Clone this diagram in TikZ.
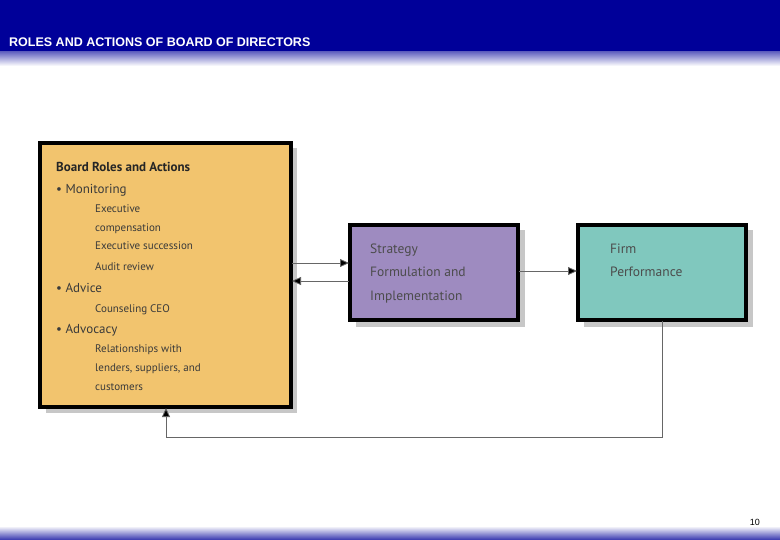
\documentclass[tikz,border=0pt]{standalone}
\usepackage{fontspec}
\setmainfont{PT Sans}
\newfontfamily\hdr{Liberation Sans}
\usetikzlibrary{arrows.meta}
\definecolor{navy}{HTML}{000099}
\definecolor{boardc}{HTML}{F2C46E}
\definecolor{stratc}{HTML}{9E8BC0}
\definecolor{firmc}{HTML}{80C8BE}
\definecolor{txt}{HTML}{3A3A3A}
\begin{document}
\begin{tikzpicture}[x=1pt,y=-1pt,
  boxstyle/.style={draw=black,line width=3.5pt},
  shadowc/.style={fill=black!22},
  conn/.style={draw=black!60,line width=0.8pt,-{Triangle[length=9pt,width=8pt,fill=black]}},
  itm/.style={anchor=base west,inner sep=0pt,text=txt,font=\fontsize{13}{13}\selectfont},
  sub/.style={anchor=base west,inner sep=0pt,text=txt,font=\fontsize{11}{11}\selectfont},
  lab/.style={anchor=base west,inner sep=0pt,text=black!70,font=\fontsize{13.5}{13.5}\selectfont}]
\useasboundingbox (0,0) rectangle (780,540);
\fill[white] (0,0) rectangle (780,540);
\fill[navy] (0,0) rectangle (780,52);
\shade[top color=navy!60, bottom color=white] (0,52) rectangle (780,66);
\shade[top color=white, bottom color=navy!80] (0,526) rectangle (780,540);
\node[anchor=base west,inner sep=0pt,text=white,font=\hdr\bfseries\fontsize{12.5}{12.5}\selectfont] (title) at (9,47) {ROLES AND ACTIONS OF BOARD OF DIRECTORS};
\node[anchor=base east,inner sep=0pt,font=\hdr\fontsize{9}{9}\selectfont] (pg) at (760,525) {10};
% shadows
\fill[shadowc] (46,148) rectangle (297,413);
\fill[shadowc] (356,230) rectangle (525,327);
\fill[shadowc] (584,230) rectangle (753,327);
% boxes
\draw[boxstyle,fill=boardc] (40,143) rectangle (291,407);
\node[inner sep=0pt] (board) at (165.5,275) {};
\coordinate (bE1) at (292,263);
\coordinate (bE2) at (292,281);
\coordinate (bS) at (166,408);
\draw[boxstyle,fill=stratc] (350,225) rectangle (518,320);
\coordinate (sW1) at (349,263);
\coordinate (sW2) at (349,281);
\coordinate (sE) at (519,271);
\draw[boxstyle,fill=firmc] (578,225) rectangle (746,320);
\coordinate (fW) at (577,271);
\coordinate (fS) at (662,321);
% board text
\node[itm,font=\bfseries\fontsize{13}{13}\selectfont,text=black!85] (bt) at (56,172) {Board Roles and Actions};
\node[itm] (m) at (56,194) {• Monitoring};
\node[sub] (s1) at (95,213) {Executive};
\node[sub] (s2) at (95,232) {compensation};
\node[sub] (s3) at (95,250) {Executive succession};
\node[sub] (s4) at (95,271) {Audit review};
\node[itm] (a) at (56,293) {• Advice};
\node[sub] (s5) at (95,313) {Counseling CEO};
\node[itm] (ad) at (56,334) {• Advocacy};
\node[sub] (s6) at (95,353) {Relationships with};
\node[sub] (s7) at (95,372) {lenders, suppliers, and};
\node[sub] (s8) at (95,390) {customers};
% strategy text
\node[lab] (st1) at (370,254) {Strategy};
\node[lab] (st2) at (370,277) {Formulation and};
\node[lab] (st3) at (370,301) {Implementation};
\node[lab] (f1) at (610,254) {Firm};
\node[lab] (f2) at (610,277) {Performance};
% connectors
\draw[conn] (bE1) -- (sW1);
\draw[conn] (sW2) -- (bE2);
\draw[conn] (sE) -- (fW);
\draw[conn] (fS) |- (166,437) -- (bS);
\end{tikzpicture}
\end{document}
